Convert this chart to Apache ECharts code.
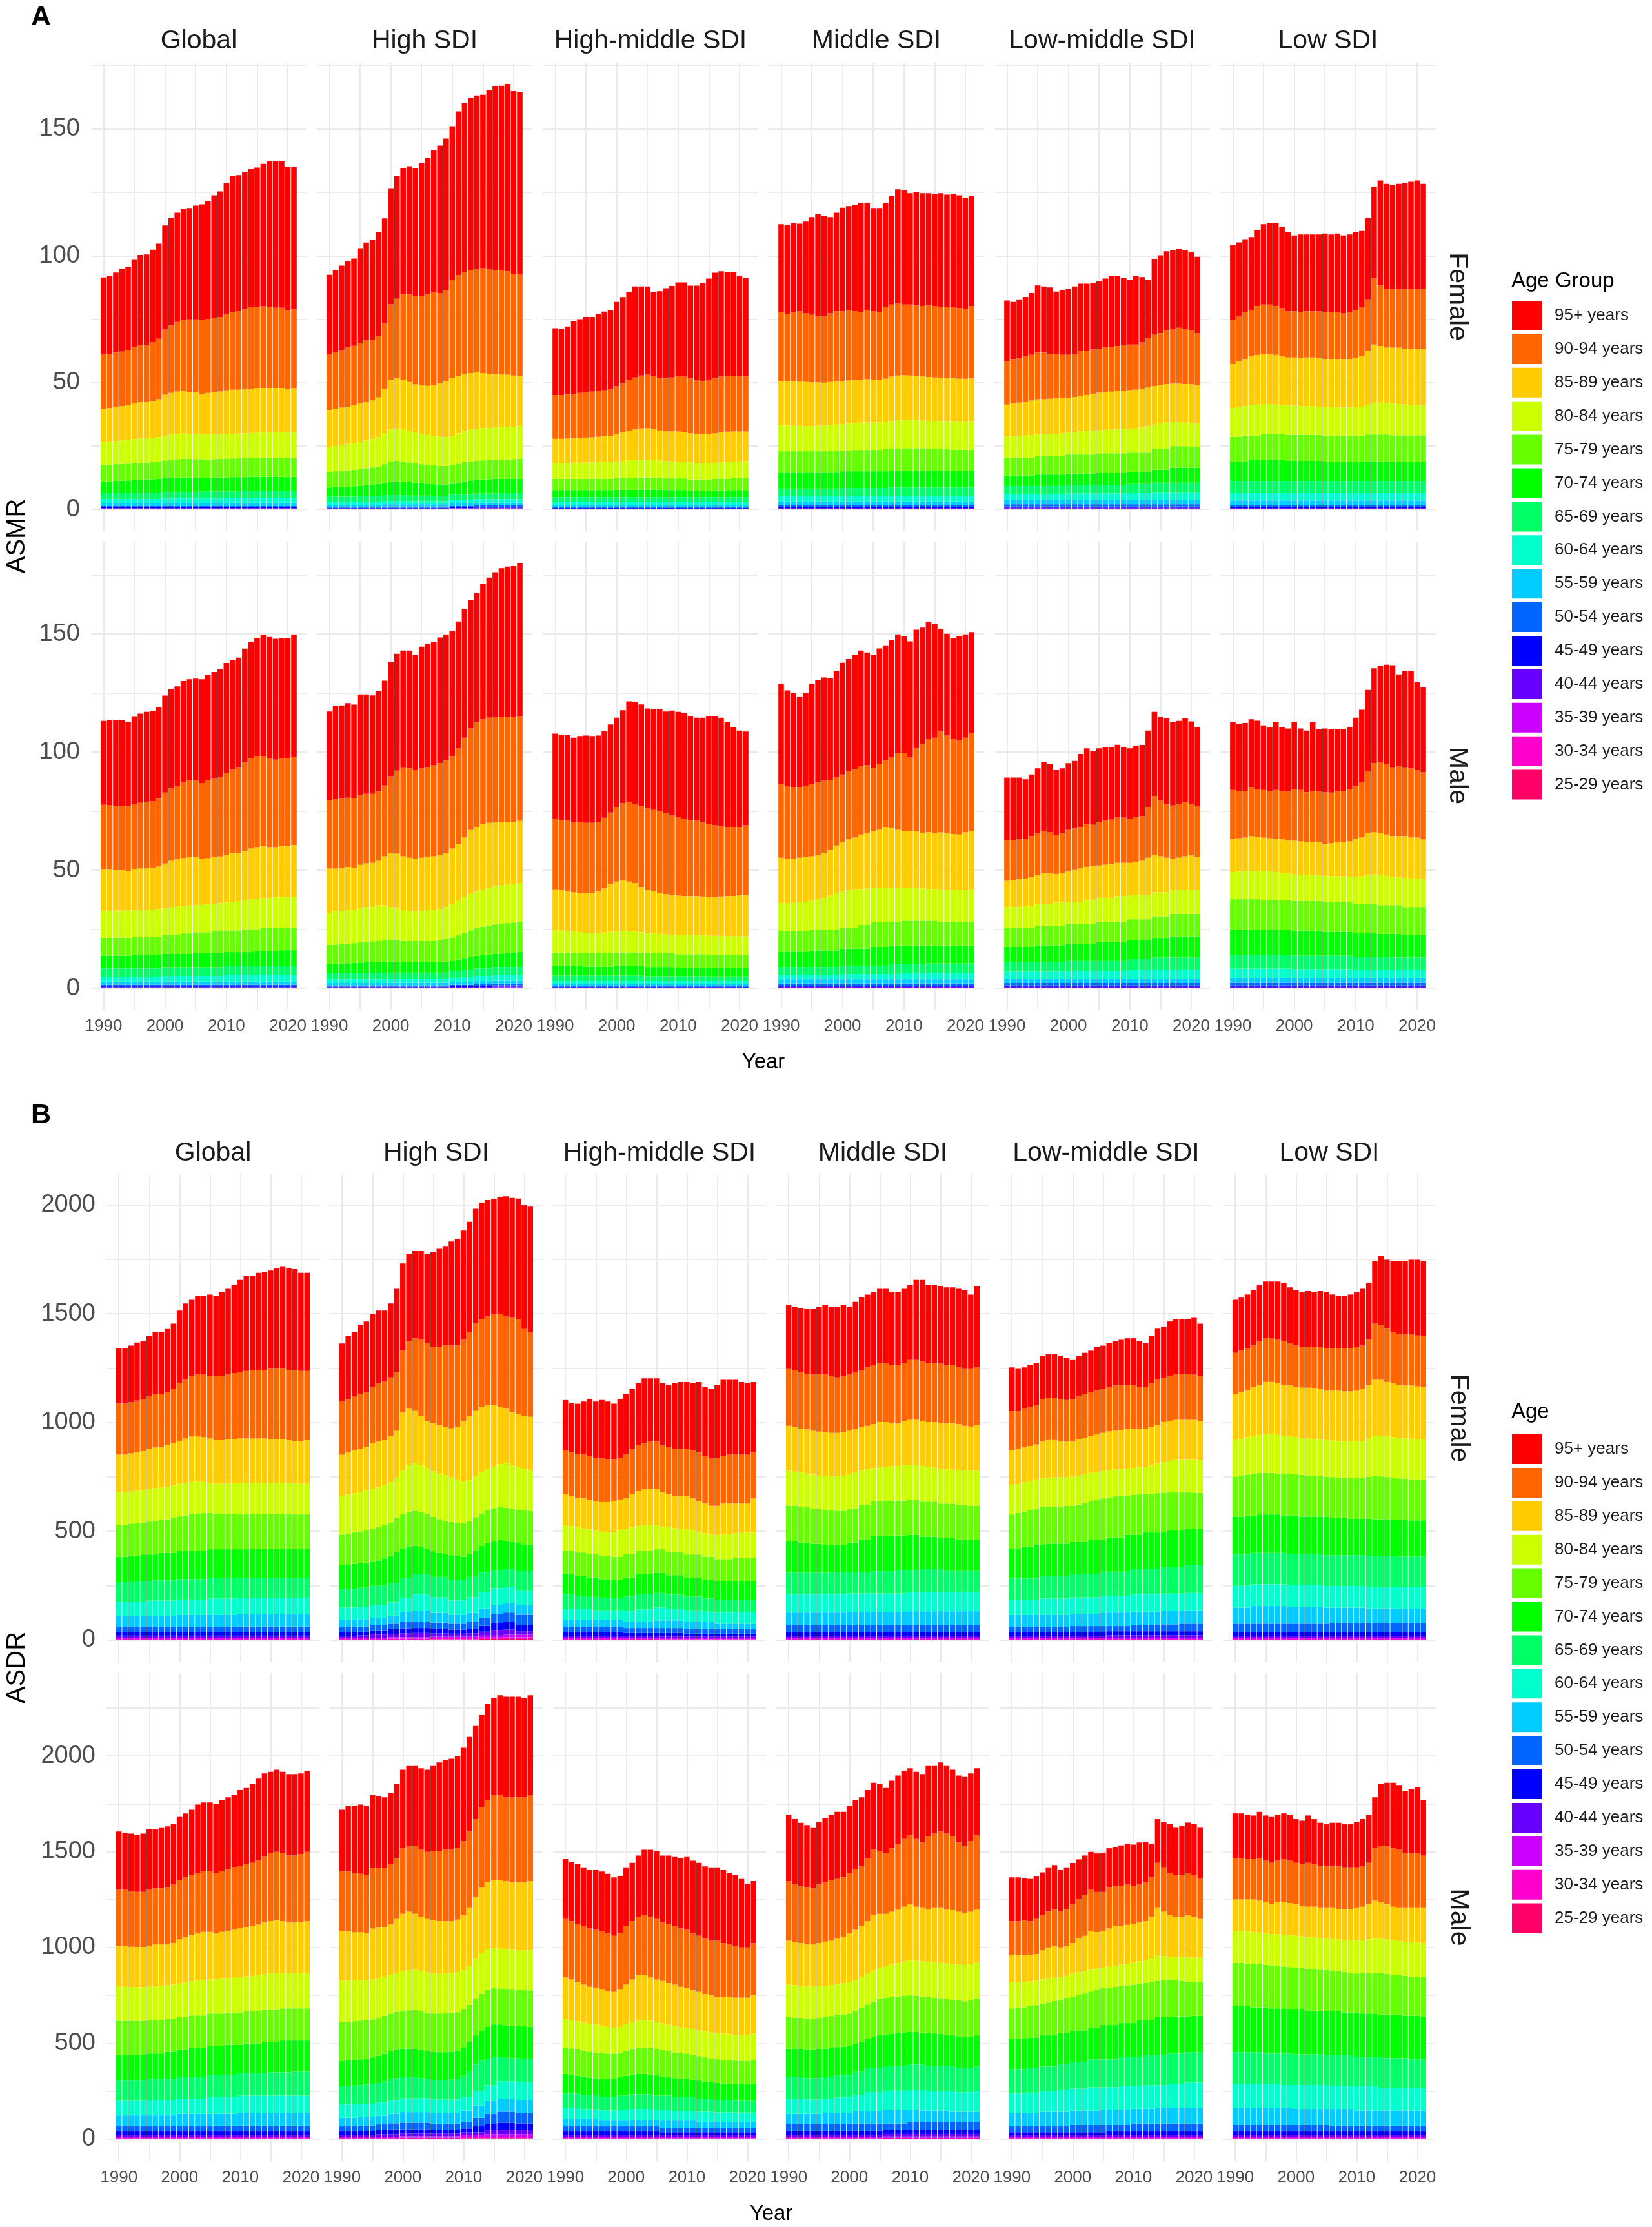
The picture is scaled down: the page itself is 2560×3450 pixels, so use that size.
<!DOCTYPE html>
<html>
<head>
<meta charset="utf-8">
<title>ASMR / ASDR by age group</title>
<script src="https://cdn.jsdelivr.net/npm/echarts@6.0.0/dist/echarts.min.js"></script>
<style>
  html, body { margin: 0; padding: 0; background: #fff; }
  #chart { width: 2560px; height: 3450px; }
</style>
</head>
<body>
<div id="chart"></div>
<script>
// ---- data ---------------------------------------------------------------
const years = [1990, 1991, 1992, 1993, 1994, 1995, 1996, 1997, 1998, 1999, 2000, 2001, 2002, 2003, 2004, 2005,
  2006, 2007, 2008, 2009, 2010, 2011, 2012, 2013, 2014, 2015, 2016, 2017, 2018, 2019, 2020, 2021];
const ageGroups = ['95+ years', '90-94 years', '85-89 years', '80-84 years', '75-79 years', '70-74 years',
  '65-69 years', '60-64 years', '55-59 years', '50-54 years', '45-49 years', '40-44 years', '35-39 years',
  '30-34 years', '25-29 years'];
const regions = ['Global', 'High SDI', 'High-middle SDI', 'Middle SDI', 'Low-middle SDI', 'Low SDI'];
const sexes = ['Female', 'Male'];
const xTickLabels = [1990, 2000, 2010, 2020];
const asmrTickLabels = [0, 50, 100, 150];
const asdrTickLabels = [0, 500, 1000, 1500, 2000];

// Each panel: cumulative height read at the top of every age band (95+ first, 25-29 last),
// one value per year 1990-2021. "v*n" = the same reading for n years in a row.
const asmrFemaleGlobal = [
  '91.5 92.2 93.4 94.7 95.7 98.4 100.3 100.5 102.4 104.8 112.0 115.0 117.0 118.4 118.6 119.8 120.3 121.7 123.9 125.4 128.7 131.4 131.8 133.1 134.2 134.8 136.3 137.5 137.4 137.5 135.1 135.0',
  '61.2 61.2 61.8 62.2 62.9 64.2 64.9 64.9 65.8 67.3 70.9 72.5 73.9 74.7 74.9 74.9 74.6 75.1 75.4 75.8 76.9 77.9 78.2 78.9 79.8 79.9 80.1 79.8 79.5 79.5 78.5 78.9',
  '39.6 39.9 40.3 40.7 41.0 41.9 42.3 42.3 42.7 43.4 45.2 45.9 46.5 46.7 46.3 46.3 45.6 45.9 46.3 46.5 46.9 47.2 47.2 47.3 47.6 47.9 47.9 47.9 47.9 47.9 47.3 47.9',
  '26.6 26.8 27.0 27.2 27.4 27.7 27.9 28.0 28.2 28.5 29.1 29.5 29.8 30.0 29.8 29.7 29.5 29.5 29.6 29.7 29.8 29.8 29.9 30.0 30.1 30.2 30.3 30.3 30.3 30.3 30.2 30.3',
  '17.6 17.7 17.8 17.9 18.0 18.2 18.3 18.4 18.6 18.8 19.3 19.6 19.8 19.9 19.9 19.8 19.8 19.7 19.8 19.9 20.0 20.1 20.1 20.2 20.3 20.3 20.4 20.4 20.4 20.4 20.3 20.4',
  '11.0 11.1 11.2 11.3 11.4 11.6 11.7 11.8 11.9 12.0 12.3 12.5 12.6 12.6 12.6 12.5 12.5 12.5 12.5 12.6 12.6 12.7 12.7 12.7 12.8 12.8 12.8 12.8 12.8 12.8 12.7 12.8',
  '6.4*5 6.6*5 6.9*6 7.0*6 7.2*10', '4.1*10 4.3*10 4.5*12', '2.4*10 2.5*10 2.6*12', '1.3*32', '0.8*32',
  '0.5*32', '0.3*32', '0.15*32', '0.07*32'
];
const asmrFemaleHigh = [
  '92.5 94.2 96.1 98.0 98.9 103.0 105.2 106.2 109.4 114.8 126.4 131.5 134.6 135.3 134.6 136.5 138.7 141.6 143.5 146.3 151.1 157.0 160.2 162.2 163.3 163.5 165.5 166.9 167.1 167.8 165.0 164.5',
  '61.1 61.9 62.8 63.8 64.5 65.7 66.6 67.0 68.3 73.3 80.9 83.1 84.7 84.7 84.1 84.3 84.7 85.6 85.3 86.3 90.4 92.3 93.6 94.2 94.8 95.1 94.8 94.4 94.2 93.9 92.9 92.7',
  '39.2 39.6 40.1 40.5 41.1 41.7 42.4 43.0 44.2 47.4 51.2 51.8 51.2 50.2 49.3 48.9 48.7 48.9 49.7 50.6 51.8 52.7 53.4 53.7 54.0 53.7 53.5 53.4 53.1 53.1 52.8 52.7',
  '24.7 25.0 25.4 25.8 26.2 26.7 27.2 27.7 28.4 30.0 31.5 31.9 31.6 31.0 30.4 29.8 29.3 28.9 28.6 28.5 29.0 29.9 30.8 31.4 31.8 32.0 32.1 32.2 32.3 32.4 32.6 32.9',
  '14.8 15.0 15.2 15.4 15.6 15.9 16.2 16.5 16.9 17.8 18.8 19.1 18.9 18.5 18.1 17.8 17.5 17.3 17.1 17.1 17.4 18.0 18.6 18.9 19.1 19.3 19.4 19.5 19.6 19.7 19.8 19.9',
  '8.6 8.7 8.8 8.9 9.1 9.3 9.5 9.7 10.0 10.5 11.0 11.1 11.0 10.8 10.5 10.3 10.1 9.9 9.8 9.8 10.1 10.6 11.1 11.4 11.6 11.8 11.9 12.0 12.0 12.0 12.0 12.0',
  '5.0*5 5.2*4 5.6*4 5.4*4 5.3*3 5.8*4 6.2*4 6.5*4', '3.0*9 3.3*4 3.2*7 3.6*4 4.0*8',
  '1.8*9 2.0*11 2.3*4 2.6*8', '1.0*9 1.1*11 1.3*4 1.6*8', '0.6*20 0.8*4 1.0*8', '0.35*20 0.45*4 0.6*8',
  '0.2*20 0.35*12', '0.1*20 0.2*12', '0.05*20 0.1*12'
];
const asmrFemaleHighMid = [
  '71.4 71.2 72.1 74.2 75.0 75.9 75.9 77.1 78.0 78.4 81.8 83.7 85.7 87.9 87.9 87.9 85.7 86.0 87.2 88.1 89.5 89.5 88.2 88.2 89.1 91.0 93.3 93.9 93.6 93.6 92.0 91.4',
  '45.1 45.1 45.3 45.6 45.9 46.2 46.4 46.6 46.9 47.3 48.5 49.9 51.2 52.0 52.8 53.1 52.6 51.8 51.6 52.0 52.5 52.3 51.6 50.8 50.4 50.8 51.6 52.3 52.6 52.6 52.5 52.4',
  '27.8 27.8 27.9 28.0 28.1 28.3 28.4 28.6 28.8 29.0 29.6 30.3 31.0 31.5 31.9 32.0 31.6 31.1 30.8 30.7 30.7 30.5 30.0 29.6 29.5 29.6 30.0 30.4 30.6 30.7 30.7 30.7',
  '18.3 18.3 18.3 18.4 18.4 18.5 18.5 18.6 18.6 18.7 18.9 19.1 19.3 19.4 19.5 19.5 19.4 19.2 19.0 18.9 18.8 18.7 18.5 18.3 18.2 18.2 18.3 18.5 18.7 18.8 18.9 19.0',
  '12.0*10 12.3*4 12.6*4 12.2*4 11.8*4 12.0*3 12.3*3', '7.6*10 7.7*4 7.8*4 7.6*4 7.4*4 7.5*3 7.6*3',
  '4.8*32', '3.0*32', '1.8*32', '1.0*32', '0.55*32', '0.3*32', '0.15*32', '0.08*32', '0.04*32'
];
const asmrFemaleMiddle = [
  '112.5 112.3 112.9 112.7 113.5 115.3 116.4 115.7 115.3 117.0 119.0 119.6 120.2 120.9 120.7 118.6 118.6 120.7 123.5 126.2 125.8 124.7 125.2 124.7 124.7 124.3 124.7 124.1 124.3 123.9 122.7 123.7',
  '77.7 77.1 77.7 78.1 77.3 76.7 76.3 76.1 77.3 78.1 78.1 78.7 78.1 77.7 78.7 78.1 77.7 79.8 80.8 81.2 80.8 80.8 80.4 80.2 80.4 80.2 79.8 79.8 79.8 79.3 79.1 80.2',
  '50.7 50.5 50.4 50.3 50.2 50.1 50.1 50.0 50.2 50.4 50.6 50.8 51.0 51.2 51.3 51.1 51.0 51.5 52.3 52.8 52.9 52.8 52.6 52.4 52.2 52.0 51.9 51.7 51.6 51.5 51.5 51.6',
  '33.1 33.0 32.9 32.9 32.8 32.8 32.9 33.0 33.2 33.4 33.6 33.8 34.0 34.2 34.3 34.3 34.3 34.5 34.8 35.1 35.2 35.2 35.1 35.0 34.9 34.9 34.8 34.8 34.8 34.7 34.7 34.8',
  '22.9*8 23.1*4 23.4*5 23.8*3 24.1*4 23.8*4 23.5*4', '14.7*10 15.0*8 15.3*8 15.1*6', '8.2*10 8.4*8 8.6*14',
  '5.1*32', '3.1*32', '1.6*32', '0.9*32', '0.5*32', '0.25*32', '0.12*32', '0.05*32'
];
const asmrFemaleLowMid = [
  '82.4 81.8 82.8 83.8 85.3 88.3 87.9 87.5 85.9 86.3 86.9 87.9 89.0 89.0 89.4 90.0 91.0 92.0 92.0 91.4 90.4 92.0 91.6 90.4 98.8 100.2 101.8 102.2 102.7 102.2 101.6 99.6',
  '58.3 59.3 59.7 60.3 60.9 61.8 61.8 61.3 61.3 60.9 60.9 61.3 62.4 62.4 63.0 63.4 63.8 64.0 64.4 64.8 65.0 65.0 65.8 67.5 68.9 69.5 70.6 71.2 71.6 71.0 70.6 69.5',
  '41.3 41.7 42.1 42.5 42.9 43.4 43.5 43.6 43.7 43.8 44.0 44.3 44.7 45.1 45.6 46.0 46.2 46.4 46.6 46.8 47.0 47.2 47.5 48.0 48.6 49.1 49.4 49.5 49.5 49.4 49.3 49.1',
  '28.6 28.7 28.9 29.1 29.3 29.5 29.6 29.7 29.8 29.9 30.3 30.5 30.7 30.9 31.1 31.2 31.3 31.4 31.5 31.6 31.7 31.9 32.2 32.8 33.4 33.9 34.2 34.4 34.4 34.2 34.0 33.7',
  '20.4*5 20.9*5 21.6*5 22.1*5 22.6*4 23.8*3 24.9*3 24.6*2', '13.3*5 13.7*5 14.1*5 14.5*5 14.8*4 15.6*3 16.4*5',
  '9.2*10 9.6*10 10.0*4 10.5*8', '6.1*10 6.3*10 6.5*4 6.7*8', '3.7*32', '2.0*32', '1.1*32', '0.6*32',
  '0.3*32', '0.15*32', '0.07*32'
];
const asmrFemaleLow = [
  '104.3 105.3 106.3 107.4 110.0 112.5 112.9 112.9 111.5 109.4 108.0 108.4 108.4 108.4 108.4 108.8 108.4 108.8 108.0 108.4 109.4 109.8 114.9 127.2 129.7 128.4 127.8 128.4 128.8 129.2 129.7 128.4',
  '74.6 76.1 77.7 78.7 80.2 80.8 80.8 80.2 79.3 78.1 78.1 77.7 78.1 78.1 78.1 77.7 77.7 77.7 77.3 77.7 78.7 79.8 82.8 91.0 88.3 86.9 86.9 86.9 86.9 86.9 86.9 86.9',
  '57.3 58.3 59.3 60.3 60.9 61.3 61.3 60.9 60.3 59.9 59.9 59.7 59.9 59.9 59.7 59.3 59.3 59.3 59.3 59.3 59.7 60.3 62.4 65.0 64.4 63.8 63.8 63.8 63.4 63.4 63.4 63.4',
  '39.9 40.3 40.7 41.1 41.3 41.5 41.5 41.3 41.1 40.9 40.9 40.7 40.7 40.7 40.5 40.3 40.3 40.1 40.1 40.1 40.3 40.5 41.1 42.1 42.1 41.9 41.7 41.5 41.3 41.1 41.1 40.9',
  '28.6*2 29.1*3 29.7*4 29.4*6 29.1*7 29.5*4 29.2*6', '18.8*3 19.4*6 19.1*6 18.8*7 19.0*4 18.6*6',
  '11.2*32', '6.5*32', '3.5*32', '1.8*32', '1.0*32', '0.5*32', '0.25*32', '0.12*32', '0.05*32'
];
const asmrMaleGlobal = [
  '113.2 113.7 113.5 113.7 112.9 115.2 116.3 117.0 117.5 119.0 123.9 126.5 127.8 130.1 130.8 131.1 130.8 132.7 133.9 135.1 137.7 139.1 140.0 143.8 146.6 148.4 149.5 148.7 148.0 148.4 148.3 149.5',
  '77.7 77.6 77.3 77.3 77.0 78.0 78.5 78.8 79.1 80.3 82.9 84.6 85.7 87.2 88.0 88.0 86.9 88.0 88.7 89.5 91.3 92.6 93.6 95.6 97.5 98.4 98.4 97.5 96.8 97.5 97.5 97.9',
  '50.2 50.2 50.0 50.0 49.7 50.5 50.8 50.8 50.9 51.6 52.8 54.0 54.6 55.1 55.5 55.5 54.8 55.1 55.5 55.8 56.6 57.1 57.4 58.1 59.2 59.7 60.1 59.7 59.7 60.1 60.1 60.7',
  '32.9 32.9 32.9 32.9 32.9 33.0 33.1 33.2 33.3 33.5 33.8 34.2 34.5 34.8 35.1 35.2 35.3 35.5 35.8 36.0 36.3 36.6 36.9 37.3 37.7 38.0 38.2 38.3 38.4 38.5 38.6 38.7',
  '21.4*5 21.8*5 22.5*3 23.2*2 23.7*3 24.1*2 24.5*3 25.0*3 25.6*6', '13.8*5 14.1*5 14.5*5 14.9*5 15.3*5 15.8*4 16.1*3',
  '8.4*10 8.9*10 9.3*6 9.5*6', '4.9*10 5.2*10 5.5*12', '2.8*32', '1.5*32', '0.8*32', '0.45*32', '0.25*32',
  '0.12*32', '0.05*32'
];
const asmrMaleHigh = [
  '117.2 119.6 119.8 120.7 120.1 124.4 124.4 124.0 125.7 130.2 138.1 141.6 143.0 143.0 141.3 144.6 145.9 146.5 148.5 149.5 151.4 155.3 160.5 164.4 167.4 171.3 173.9 176.1 177.8 178.5 178.7 180.1',
  '79.7 80.1 80.3 80.7 80.4 82.0 82.3 82.3 83.3 85.9 89.8 92.2 93.5 93.1 92.4 93.1 93.7 94.4 95.3 96.4 98.3 101.6 106.1 110.0 112.6 113.9 114.6 114.9 114.9 115.0 115.0 115.3',
  '50.7 50.7 51.0 51.4 51.0 52.3 52.9 53.1 54.0 55.9 57.2 57.0 55.9 55.3 54.9 55.3 55.7 55.9 56.6 57.2 59.2 61.2 63.8 67.0 68.3 69.6 70.0 70.3 70.3 70.3 70.5 70.9',
  '31.8 32.5 32.7 33.1 33.1 33.8 34.4 34.4 35.1 35.1 34.4 33.8 33.1 32.7 32.5 32.7 33.1 33.1 33.5 34.4 35.7 37.0 38.7 40.0 40.9 41.8 42.6 43.1 43.5 43.9 44.2 44.5',
  '18.4 18.5 18.7 18.9 19.1 19.4 19.7 19.9 20.2 20.5 20.7 20.6 20.3 20.1 20.0 20.1 20.2 20.3 20.5 20.8 21.5 22.4 23.4 24.5 25.4 26.1 26.6 27.0 27.3 27.6 27.8 27.9',
  '10.3 10.4 10.5 10.6 10.7 10.8 11.0 11.1 11.2 11.3 11.3 11.2 11.1 11.0 11.0 11.0 11.0 11.0 11.1 11.3 11.7 12.2 12.8 13.3 13.7 14.0 14.2 14.5 14.7 15.0 15.2 15.3',
  '6.4*10 6.6*10 7.2*2 7.8*2 8.4*3 9.0*5', '3.8*10 4.0*10 4.4*2 4.8*2 5.2*3 5.6*5', '2.2*10 2.3*10 2.6*4 3.0*3 3.4*5',
  '1.2*20 1.5*4 1.8*3 2.0*5', '0.7*20 0.9*4 1.1*3 1.2*5', '0.4*20 0.55*7 0.7*5', '0.2*20 0.3*7 0.4*5',
  '0.1*20 0.15*7 0.2*5', '0.05*20 0.08*7 0.1*5'
];
const asmrMaleHighMid = [
  '107.8 107.4 107.2 106.1 106.8 107.0 106.8 107.0 109.0 111.7 114.6 117.7 121.5 121.1 120.2 118.5 118.3 118.3 117.2 117.6 117.0 116.6 115.3 114.6 114.6 115.3 115.3 114.6 112.9 110.7 109.1 108.7',
  '71.6 71.3 70.9 70.5 70.3 70.0 70.0 70.5 72.2 74.4 76.8 78.4 78.7 78.1 77.1 76.1 75.5 75.1 74.2 73.1 72.5 71.8 71.3 70.9 70.3 69.6 69.0 68.7 68.3 68.3 68.3 69.0',
  '41.9 41.6 41.0 40.6 40.3 40.3 40.3 40.9 42.2 44.2 45.2 45.8 45.2 44.5 42.9 41.6 41.0 40.3 39.9 39.5 39.2 39.0 39.0 39.0 38.9 38.8 38.8 38.9 39.0 39.1 39.3 39.6',
  '24.6 24.4 24.2 24.0 23.8 23.5 23.3 23.4 23.6 23.9 24.1 24.3 24.2 24.0 23.7 23.4 23.2 23.0 22.8 22.7 22.6 22.5 22.4 22.4 22.3 22.3 22.2 22.2 22.1 22.1 22.0 22.0',
  '15.1*5 14.8*5 15.2*5 14.8*5 14.4*5 14.0*7', '9.3*5 9.1*5 9.3*5 9.0*5 8.7*5 8.5*7', '5.3*15 5.1*10 5.0*7',
  '3.1*32', '1.9*32', '1.1*32', '0.6*32', '0.35*32', '0.18*32', '0.09*32', '0.04*32'
];
const asmrMaleMiddle = [
  '128.7 126.1 125.0 123.5 125.0 128.7 130.5 131.6 131.3 134.4 137.8 139.4 141.3 143.0 142.2 141.3 143.9 145.2 147.5 149.8 149.2 146.9 151.8 152.7 155.0 154.4 152.2 150.1 148.2 149.2 149.8 150.8',
  '86.6 85.7 85.3 85.3 85.7 86.6 87.2 87.9 88.3 89.2 90.5 91.8 92.7 94.0 94.4 93.1 95.0 96.4 97.9 99.6 99.6 97.7 101.6 103.5 105.5 106.1 108.7 107.0 105.5 104.8 106.1 108.1',
  '55.3 54.9 54.9 55.3 55.6 55.9 56.6 57.2 58.5 60.5 61.8 63.1 63.8 65.1 65.7 66.4 67.1 68.3 67.9 67.1 66.4 66.6 66.4 65.7 66.1 65.7 66.0 65.7 65.3 65.1 66.1 66.7',
  '36.1 36.1 36.1 36.4 36.6 37.0 37.7 38.3 39.2 40.3 40.9 41.6 41.9 42.0 42.2 42.4 42.5 42.6 42.6 42.6 42.6 42.5 42.4 42.3 42.1 42.0 41.9 41.8 41.8 41.8 41.8 41.9',
  '24.3*5 24.7*5 25.6*3 26.8*2 27.9*5 28.6*6 28.2*6', '15.5*5 16.0*5 16.8*5 17.5*3 18.1*14', '9.0*10 9.6*8 10.2*6 10.5*8',
  '5.7*10 6.0*10 6.3*12', '3.8*32', '2.0*32', '1.1*32', '0.6*32', '0.3*32', '0.15*32', '0.07*32'
];
const asmrMaleLowMid = [
  '89.2 89.2 89.2 88.5 90.5 93.1 95.7 94.8 92.4 93.1 95.3 96.3 99.2 101.6 100.3 101.6 102.2 102.2 103.1 102.2 101.6 102.5 103.0 109.1 117.0 114.9 114.2 112.6 113.2 114.3 113.0 110.6',
  '62.7 62.7 63.1 63.1 64.4 65.7 66.6 66.1 65.0 65.7 67.0 67.7 68.3 69.6 69.2 70.3 71.0 71.4 72.3 72.3 71.8 72.7 72.9 76.8 81.4 79.4 77.8 77.4 78.1 78.7 78.1 77.1',
  '45.5 45.8 46.2 46.5 47.1 48.1 48.8 48.8 48.4 48.8 49.4 50.1 50.7 51.4 51.8 52.0 52.3 52.7 53.1 53.1 53.1 53.6 54.0 55.3 56.6 55.9 55.3 54.9 55.3 55.9 56.2 55.7',
  '34.4*3 34.9*2 35.7*3 36.2*2 36.6*3 37.5*2 38.3*3 39.0*2 39.6*4 40.6*3 41.6*5',
  '25.7*5 26.5*5 27.2*5 28.2*5 29.2*4 30.5*3 31.5*5', '17.5*5 18.2*5 18.8*5 19.7*5 20.5*4 21.3*3 22.0*5',
  '11.0*10 11.8*10 12.5*4 13.0*8', '7.0*10 7.4*10 7.8*12', '4.0*32', '2.2*32', '1.2*32', '0.6*32', '0.3*32',
  '0.15*32', '0.07*32'
];
const asmrMaleLow = [
  '112.6 112.0 112.3 113.9 113.3 111.3 110.7 112.6 110.4 110.0 112.6 110.0 109.1 112.6 109.6 110.0 109.8 109.8 109.8 110.7 114.6 117.9 126.3 135.5 136.5 137.0 136.8 132.9 134.2 134.4 129.6 127.6',
  '84.0 83.6 83.6 85.3 84.4 84.0 83.3 84.0 83.6 83.3 84.4 84.0 83.0 83.6 83.3 83.0 82.9 83.3 83.6 84.4 85.7 87.2 91.8 95.3 95.7 95.0 93.5 94.0 93.5 93.1 92.4 91.4',
  '63.1 63.5 63.8 64.4 64.0 63.8 63.5 63.1 63.1 62.5 62.5 62.2 61.8 61.8 61.8 61.1 61.4 61.8 61.8 62.2 63.1 63.8 65.7 66.1 65.7 65.1 64.4 64.4 64.4 63.8 63.8 63.1',
  '49.2 49.4 49.5 49.6 49.7 49.7 49.5 49.2 48.9 48.6 48.2 48.0 47.9 47.8 47.7 47.6 47.5 47.4 47.4 47.3 47.3 47.4 47.8 48.2 48.0 47.6 47.2 46.9 46.7 46.5 46.4 46.3',
  '37.7*5 37.4*5 37.0*5 36.4*5 35.7*4 35.2*4 34.4*4', '24.9*5 24.7*5 24.4*5 23.9*5 23.3*4 23.0*4 22.7*4',
  '14.2*10 13.8*10 13.4*6 13.0*6', '8.3*10 8.1*10 7.9*6 7.8*6', '4.4*32', '2.3*32', '1.2*32', '0.6*32',
  '0.3*32', '0.15*32', '0.07*32'
];

const asdrFemaleGlobal = [
  '1340 1340 1353 1367 1374 1397 1414 1414 1430 1454 1514 1547 1564 1581 1581 1588 1581 1598 1614 1631 1655 1675 1675 1688 1691 1698 1708 1715 1708 1705 1688 1688',
  '1086 1086 1093 1100 1107 1120 1130 1130 1140 1153 1180 1197 1213 1220 1220 1213 1213 1213 1220 1227 1230 1237 1240 1240 1240 1247 1247 1247 1240 1240 1237 1237',
  '852 852 858 862 868 879 885 885 895 906 916 926 936 936 933 926 919 919 923 923 926 926 926 926 926 923 923 923 919 916 916 919',
  '678 680 682 685 688 694 698 700 704 710 718 722 726 728 726 722 719 718 719 720 721 722 722 722 722 721 721 720 720 719 718 718',
  '527 530 533 536 540 544 548 551 555 561 568 573 578 581 583 584 582 580 579 578 577 577 578 578 579 579 579 578 578 577 577 577',
  '383*2 388*2 393*3 400*3 410*5 417*7 418*5 420*5', '266*3 270*3 274*4 280*5 284*5 286*12',
  '176*5 181*5 186*5 190*5 193*12', '109*10 115*10 119*12', '59*10 61*10 62*12', '35*32', '20*32', '10*32', '5*32', '2*32'
];
const asdrFemaleHigh = [
  '1363 1397 1414 1447 1464 1497 1514 1514 1547 1614 1731 1775 1788 1788 1775 1782 1798 1808 1832 1842 1882 1922 1982 2009 2022 2025 2036 2039 2032 2029 1999 1992',
  '1096 1106 1120 1130 1140 1163 1180 1187 1207 1230 1330 1374 1387 1380 1364 1347 1347 1354 1354 1354 1380 1414 1454 1474 1487 1497 1497 1487 1481 1474 1430 1414',
  '852 862 872 879 886 906 912 919 939 962 1046 1063 1053 1029 1006 996 986 979 973 979 1006 1029 1053 1073 1079 1079 1073 1063 1046 1039 1029 1026',
  '661 668 675 681 688 694 701 711 724 748 778 805 812 805 791 775 765 758 748 738 728 738 755 771 785 798 808 812 805 795 785 778',
  '484 488 494 499 504 510 518 528 540 560 578 590 594 588 578 566 556 548 543 540 537 548 565 582 596 606 610 608 604 600 597 594',
  '343 346 350 353 356 360 366 375 388 405 422 430 433 428 418 408 400 395 390 386 383 395 413 432 447 456 460 456 450 445 440 437',
  '233*3 240*2 249*3 262*2 285*2 303*3 290*3 276*3 290*2 310*2 322*2 326*2 318*3',
  '149*3 153*2 159*3 172*2 195*2 209*3 196*3 182*3 196*2 220*2 238*2 243*2 228*3',
  '92*3 96*2 102*3 112*2 128*2 135*3 125*3 115*3 125*2 145*2 162*2 169*2 160*3',
  '59*3 62*2 69*3 75*2 82*2 85*3 80*3 75*3 82*2 100*2 118*2 126*2 116*3',
  '35*3 38*2 45*3 50*2 54*2 55*3 50*3 48*3 52*2 65*2 78*2 82*2 70*3',
  '19*3 21*2 25*3 28*2 31*2 32*3 30*3 29*3 31*2 38*2 46*2 48*2 40*3',
  '10*8 13*7 15*8 20*4 24*5', '5*8 7*7 8*8 11*4 12*5', '2*15 3*8 5*9'
];
const asdrFemaleHighMid = [
  '1103 1089 1086 1096 1106 1096 1103 1096 1086 1106 1129 1153 1180 1203 1203 1203 1180 1173 1180 1186 1186 1180 1186 1163 1153 1173 1196 1196 1196 1186 1180 1186',
  '872 862 855 852 845 838 835 832 828 838 852 879 896 906 912 912 896 886 879 879 879 872 862 845 835 838 845 852 852 852 852 862',
  '671 661 654 651 644 638 634 634 638 644 651 671 684 694 694 694 678 671 661 661 661 651 638 627 617 617 627 627 627 627 627 651',
  '527 523 518 513 508 503 498 495 497 503 510 517 523 527 528 527 522 518 514 512 510 505 498 490 484 483 485 488 490 492 493 493',
  '410*2 402*2 395*2 386*2 383*2 395*2 410*3 417*2 405*3 393*3 383*2 372*3 376*4',
  '303*2 295*2 288*2 280*2 276*2 288*2 303*3 309*2 298*3 286*3 275*2 269*3 270*4',
  '209*2 203*2 198*2 195*2 193*2 200*2 210*3 216*2 208*3 199*3 190*2 183*3 184*4',
  '142*5 136*5 132*2 140*3 149*2 143*3 136*3 130*2 126*3 127*4', '92*10 85*5 90*5 85*5 75*7',
  '59*10 55*10 50*12', '35*10 32*10 29*12', '19*16 16*16', '10*16 8*16', '5*16 4*16', '2*32'
];
const asdrFemaleMiddle = [
  '1541 1531 1524 1521 1521 1531 1541 1531 1531 1541 1531 1554 1574 1588 1598 1614 1614 1598 1598 1614 1631 1655 1655 1631 1631 1625 1621 1621 1614 1608 1588 1625',
  '1246 1240 1230 1223 1220 1223 1220 1213 1207 1213 1220 1230 1240 1253 1263 1273 1273 1263 1263 1273 1287 1287 1280 1273 1273 1270 1263 1263 1256 1246 1246 1256',
  '985 978 972 968 962 958 955 952 952 955 962 972 978 985 992 1002 1002 995 995 1006 1012 1012 1006 1002 1002 999 995 995 992 985 982 989',
  '778 774 770 765 760 756 753 751 752 756 762 770 778 785 790 795 797 798 800 803 805 803 800 796 792 788 785 783 782 780 779 778',
  '617*2 610*2 603*2 596*2 594*2 605*2 620*2 637*3 641*3 644*2 636*3 627*3 620*2 617*2',
  '454*2 448*2 442*2 437*2 436*2 448*2 462*2 477*3 480*3 483*2 475*3 468*3 462*2 460*2',
  '309*8 312*6 316*4 322*4 326*4 320*6', '209*10 214*10 219*12', '126*10 129*10 132*12', '69*32', '35*32',
  '19*32', '10*32', '5*32', '2*32'
];
const asdrFemaleLowMid = [
  '1253 1246 1253 1263 1273 1307 1313 1313 1307 1297 1287 1307 1320 1330 1347 1353 1364 1374 1380 1387 1387 1374 1364 1397 1431 1441 1464 1474 1474 1474 1481 1454',
  '1052 1052 1062 1073 1079 1106 1113 1113 1106 1103 1106 1120 1130 1140 1146 1153 1163 1170 1170 1173 1173 1163 1163 1180 1196 1206 1213 1220 1223 1223 1220 1213',
  '872 879 886 892 899 912 919 919 912 912 912 922 929 939 946 952 959 962 965 969 972 972 972 979 989 1002 1006 1012 1012 1012 1012 1006',
  '711 717 724 731 738 744 746 748 749 750 751 756 762 768 773 777 780 783 785 788 791 793 795 802 810 818 824 828 828 828 828 826',
  '577 584 591 598 605 611 613 614 615 616 617 623 630 638 645 651 656 660 661 664 667 669 671 673 675 677 678 678 678 678 677 676',
  '420*2 430*2 440*2 443*4 450*3 460*3 472*3 483*3 494*4 503*3 510*3', '283*5 293*5 303*5 314*5 326*5 336*4 343*3',
  '183*5 190*5 196*5 202*5 209*5 213*4 216*3', '115*10 120*5 126*5 130*5 134*4 136*3', '59*10 64*10 69*4 72*4 75*4',
  '35*16 40*16', '19*16 22*16', '10*32', '5*32', '2*32'
];
const asdrFemaleLow = [
  '1564 1574 1588 1608 1631 1648 1648 1648 1641 1621 1608 1598 1604 1598 1604 1598 1588 1581 1581 1588 1598 1614 1641 1741 1765 1748 1741 1741 1741 1748 1748 1741',
  '1320 1330 1340 1353 1374 1387 1387 1380 1374 1364 1353 1347 1347 1347 1347 1340 1340 1340 1340 1340 1347 1353 1380 1454 1448 1431 1414 1407 1404 1404 1400 1397',
  '1129 1140 1146 1163 1173 1186 1186 1180 1173 1170 1163 1160 1160 1156 1153 1146 1146 1146 1143 1143 1146 1153 1173 1196 1196 1186 1180 1173 1170 1170 1166 1163',
  '919 925 932 939 943 946 946 943 939 936 932 929 926 923 921 919 917 915 914 913 912 915 925 936 939 936 932 929 927 925 923 922',
  '751 755 760 764 767 768 768 766 764 762 761 759 757 755 753 751 749 747 746 745 744 746 750 754 752 749 746 743 741 739 738 737',
  '567*2 572*2 577*4 573*3 567*5 562*3 557*4 555*3 552*3 550*3', '393*3 400*6 396*6 390*7 386*5 383*5',
  '249*3 256*6 252*6 248*7 245*5 243*5', '149*3 156*6 152*6 148*7 145*5 142*5', '75*16 79*16', '35*32', '19*32',
  '10*32', '5*32', '2*32'
];
const asdrMaleGlobal = [
  '1605 1598 1594 1586 1594 1617 1617 1624 1632 1643 1681 1700 1719 1746 1757 1757 1750 1769 1784 1795 1822 1833 1852 1882 1909 1917 1928 1917 1902 1902 1909 1921',
  '1301 1301 1293 1290 1290 1301 1309 1309 1312 1328 1351 1366 1377 1389 1397 1397 1389 1397 1408 1416 1427 1435 1442 1454 1473 1492 1499 1492 1480 1480 1488 1499',
  '1008 1008 1004 1000 1000 1008 1016 1016 1016 1023 1042 1054 1065 1073 1081 1081 1073 1081 1085 1092 1100 1107 1111 1119 1130 1137 1141 1137 1130 1130 1134 1137',
  '795 795 794 793 793 795 797 799 802 806 812 818 823 827 831 833 834 836 839 842 845 849 852 856 860 864 866 866 865 865 865 865',
  '617*5 622*3 628*2 636*2 645*3 655*3 660*3 667*3 674*3 682*5', '438*5 446*3 455*2 465*2 475*3 484*3 492*3 499*3 507*3 514*5',
  '305*5 312*5 324*5 333*5 343*5 348*4 351*3', '199*5 204*5 210*5 218*5 226*12', '123*10 131*10 134*12',
  '66*16 70*16', '39*32', '21*32', '11*32', '5*32', '2*32'
];
const asdrMaleHigh = [
  '1719 1738 1738 1746 1738 1795 1788 1784 1807 1852 1928 1947 1947 1936 1928 1947 1966 1978 1985 1997 2043 2099 2156 2213 2270 2301 2316 2309 2309 2309 2301 2316',
  '1396 1396 1389 1385 1377 1414 1414 1414 1434 1465 1518 1529 1529 1510 1499 1503 1503 1510 1510 1518 1556 1605 1670 1731 1769 1795 1795 1784 1784 1784 1784 1795',
  '1084 1084 1080 1080 1077 1099 1103 1107 1122 1149 1176 1187 1176 1160 1149 1141 1137 1137 1137 1145 1168 1206 1263 1312 1339 1350 1350 1346 1339 1339 1339 1346',
  '826 827 828 829 830 833 838 845 855 866 876 882 883 878 870 864 862 864 868 871 882 905 940 970 990 996 994 990 988 986 985 985',
  '610 612 615 618 621 624 632 643 655 664 670 672 673 668 660 655 655 658 660 662 676 700 730 758 778 787 786 783 780 778 777 776',
  '408 410 412 416 420 426 434 445 458 466 472 472 470 465 460 456 453 453 456 460 480 510 541 565 585 598 598 594 592 590 588 587',
  '275 277 279 281 283 286 292 300 312 318 323 324 322 318 313 309 308 308 310 313 330 355 389 408 420 427 427 424 422 421 420 419',
  '180*3 184*3 190*2 200*2 212*5 206*5 220*2 250*2 280*2 301*3 296*3', '111*3 115*3 122*2 132*2 140*5 134*5 148*2 175*2 198*2 210*3 204*3',
  '66*3 70*3 76*2 82*2 85*5 80*5 90*2 111*2 130*2 142*3 135*3', '39*3 42*3 46*2 50*2 51*5 48*5 55*2 66*2 78*2 85*3 81*3',
  '21*6 25*4 28*10 35*4 47*8', '11*10 14*10 19*4 25*8', '5*10 7*10 9*4 10*8', '2*20 4*12'
];
const asdrMaleHighMid = [
  '1461 1445 1434 1415 1404 1404 1396 1385 1366 1373 1415 1442 1480 1510 1510 1503 1480 1480 1472 1465 1472 1453 1442 1423 1415 1415 1404 1389 1377 1358 1332 1347',
  '1149 1137 1122 1111 1099 1092 1084 1073 1061 1073 1111 1137 1160 1168 1160 1149 1130 1122 1111 1099 1092 1073 1061 1046 1035 1035 1023 1016 1008 997 997 1023',
  '844 833 818 806 795 787 780 772 768 780 806 833 855 855 844 833 825 814 806 795 787 776 768 757 749 742 742 742 738 738 738 750',
  '629 622 614 607 601 598 592 585 579 585 598 610 617 619 617 610 603 596 589 583 579 573 567 561 556 553 550 547 544 542 541 550',
  '477 473 468 462 456 451 448 446 446 452 462 472 477 478 476 470 464 458 452 448 446 440 433 426 420 416 413 411 409 408 408 414',
  '340 336 331 326 321 317 314 313 315 322 330 337 340 340 337 332 327 322 318 315 313 309 305 300 296 292 290 288 287 287 287 290',
  '237*3 228*3 220*3 226*2 233*4 226*3 218*4 210*3 203*3 199*4', '161*3 155*3 149*3 153*2 157*4 152*3 146*4 142*3 139*3 138*4',
  '104*6 96*5 100*5 96*6 90*10', '66*16 58*16', '39*16 35*16', '21*16 19*16', '11*16 9*16', '5*16 4*16', '2*32'
];
const asdrMaleMiddle = [
  '1693 1670 1651 1636 1624 1655 1674 1693 1708 1708 1738 1769 1784 1822 1860 1852 1833 1871 1898 1921 1936 1917 1902 1947 1947 1966 1947 1928 1898 1890 1909 1936',
  '1346 1331 1320 1312 1309 1328 1339 1351 1358 1366 1389 1408 1427 1465 1510 1503 1491 1518 1541 1567 1586 1567 1548 1579 1594 1605 1594 1579 1548 1529 1556 1586',
  '1035 1027 1023 1016 1016 1023 1031 1035 1046 1054 1073 1092 1111 1137 1168 1176 1176 1187 1198 1213 1225 1213 1206 1198 1206 1206 1198 1195 1187 1179 1187 1198',
  '806 803 800 797 795 797 800 804 809 813 818 830 845 862 880 894 902 910 918 926 932 930 928 926 923 920 917 914 911 909 912 920',
  '636 634 632 630 629 632 637 642 647 651 655 668 684 702 718 731 737 741 745 748 750 748 745 741 736 732 730 727 723 719 724 731',
  '472 470 468 466 465 468 472 476 480 482 484 495 508 522 533 541 546 550 554 557 560 558 556 554 551 548 545 541 537 533 536 541',
  '324*3 318*3 324*2 332*3 350*2 372*3 382*4 389*3 382*5 372*3 378*1', '210*3 206*3 210*2 217*3 230*2 245*3 252*4 256*3 250*5 244*3 248*1',
  '131*6 134*5 145*5 153*6 149*5 142*5', '77*10 81*10 89*12', '43*16 47*16', '22*16 26*16', '11*16 13*16', '5*16 6*16', '2*32'
];
const asdrMaleLowMid = [
  '1366 1366 1362 1358 1370 1392 1415 1430 1404 1415 1441 1460 1480 1499 1491 1495 1518 1525 1533 1541 1537 1548 1552 1541 1670 1655 1644 1625 1633 1652 1644 1625',
  '1137 1137 1141 1137 1149 1168 1187 1198 1187 1198 1225 1252 1274 1301 1290 1290 1312 1320 1320 1328 1320 1328 1339 1366 1442 1415 1389 1377 1377 1389 1377 1358',
  '959 959 959 959 966 985 997 1008 997 1008 1023 1046 1061 1084 1080 1084 1099 1111 1111 1118 1122 1130 1137 1160 1206 1187 1168 1160 1160 1168 1160 1149',
  '818 818 820 822 826 833 838 842 846 852 864 870 877 884 890 894 899 905 910 915 920 927 934 945 958 955 952 950 949 948 947 947',
  '682 684 688 693 699 705 712 720 728 735 742 751 760 770 779 787 791 795 799 803 806 810 815 820 826 830 833 830 826 822 820 818',
  '522*3 530*2 541*3 555*2 567*3 580*2 595*3 605*3 620*3 636*3 640*3 643*2', '362*3 370*2 378*3 390*2 400*3 415*5 427*4 437*4 446*3 453*3',
  '237*3 242*2 248*3 256*2 263*3 270*5 275*4 281*4 286*3 294*3', '134*5 142*5 148*5 153*5 158*4 161*8', '66*10 73*10 81*12',
  '35*16 39*16', '19*32', '10*32', '5*32', '2*32'
];
const asdrMaleLow = [
  '1700 1700 1693 1689 1708 1689 1681 1693 1700 1693 1670 1662 1689 1670 1651 1643 1651 1651 1643 1643 1655 1670 1693 1784 1852 1860 1860 1845 1818 1826 1837 1769',
  '1465 1465 1461 1461 1465 1453 1442 1453 1461 1453 1442 1434 1442 1434 1427 1423 1423 1423 1415 1415 1415 1427 1442 1518 1529 1529 1518 1510 1491 1491 1491 1480',
  '1251 1251 1251 1251 1244 1236 1225 1236 1236 1232 1225 1217 1213 1213 1206 1206 1206 1202 1198 1198 1206 1213 1225 1244 1236 1225 1213 1206 1206 1206 1206 1206',
  '1084 1084 1082 1080 1078 1073 1070 1068 1065 1063 1061 1058 1055 1052 1049 1046 1044 1042 1040 1037 1035 1038 1042 1046 1046 1042 1038 1034 1030 1027 1025 1023',
  '920 919 917 915 912 909 907 904 901 898 895 892 889 886 884 883 880 876 872 868 864 866 868 869 866 862 858 855 852 849 847 845',
  '693*3 688*3 682*3 676*3 670*3 667*3 661*3 655*3 650*4 643*3 636*1', '453*5 446*5 442*5 438*5 430*5 422*4 416*3',
  '286*8 282*8 275*8 267*8', '161*10 157*10 149*12', '73*16 70*16', '39*32', '21*32', '10*32', '5*32', '2*32'
];

// figure, sex row, region column, readings
const panels = [
  ['A', 0, 0, asmrFemaleGlobal], ['A', 0, 1, asmrFemaleHigh], ['A', 0, 2, asmrFemaleHighMid],
  ['A', 0, 3, asmrFemaleMiddle], ['A', 0, 4, asmrFemaleLowMid], ['A', 0, 5, asmrFemaleLow],
  ['A', 1, 0, asmrMaleGlobal], ['A', 1, 1, asmrMaleHigh], ['A', 1, 2, asmrMaleHighMid],
  ['A', 1, 3, asmrMaleMiddle], ['A', 1, 4, asmrMaleLowMid], ['A', 1, 5, asmrMaleLow],
  ['B', 0, 0, asdrFemaleGlobal], ['B', 0, 1, asdrFemaleHigh], ['B', 0, 2, asdrFemaleHighMid],
  ['B', 0, 3, asdrFemaleMiddle], ['B', 0, 4, asdrFemaleLowMid], ['B', 0, 5, asdrFemaleLow],
  ['B', 1, 0, asdrMaleGlobal], ['B', 1, 1, asdrMaleHigh], ['B', 1, 2, asdrMaleHighMid],
  ['B', 1, 3, asdrMaleMiddle], ['B', 1, 4, asdrMaleLowMid], ['B', 1, 5, asdrMaleLow]
];

// ---- look -----------------------------------------------------------------
const ageColors = ['#FF0000', '#FF6600', '#FFCC00', '#CCFF00', '#66FF00', '#00FF00', '#00FF66', '#00FFCC',
  '#00CCFF', '#0066FF', '#0000FF', '#6600FF', '#CC00FF', '#FF00CC', '#FF0066'];
const FONT = '"Liberation Sans", Arial, Helvetica, sans-serif';
const GRID_COLOR = '#EBEBEB';

const figs = {
  A: { left: 141, step: 350, width: 334, tops: [97, 839], height: 725, stripY: 64, sexX: 2258,
       ticks: asmrTickLabels, yTitle: 'ASMR', xTitleY: 1646, tagY: 27,
       legendTitle: 'Age Group', legendTitleY: 436, legendTop: 466 },
  B: { left: 165, step: 346, width: 330, tops: [1819, 2592], height: 756, stripY: 1787, sexX: 2260,
       ticks: asdrTickLabels, yTitle: 'ASDR', xTitleY: 3430, tagY: 1728,
       legendTitle: 'Age', legendTitleY: 2188, legendTop: 2222 }
};

function expand(str) {
  const out = [];
  str.trim().split(/\s+/).forEach(tok => {
    const parts = tok.split('*');
    const n = parts.length > 1 ? parseInt(parts[1], 10) : 1;
    for (let i = 0; i < n; i++) out.push(parseFloat(parts[0]));
  });
  return out;
}

// shared x range: bars of width 0.9 plus ggplot's 5% padding
const span = (years[years.length - 1] + 0.45) - (years[0] - 0.45);
const xMin = years[0] - 0.45 - 0.05 * span;
const xMax = years[years.length - 1] + 0.45 + 0.05 * span;
const xGridValues = [1990, 1995, 2000, 2005, 2010, 2015, 2020];

const parsed = panels.map(p => ({ fig: p[0], row: p[1], col: p[2], tops: p[3].map(expand) }));

// free y scale per figure row
const rowMax = {};
parsed.forEach(p => {
  const key = p.fig + p.row;
  rowMax[key] = Math.max(rowMax[key] || 0, ...p.tops[0]);
});

const grids = [], xAxes = [], yAxes = [], series = [], graphics = [];

parsed.forEach((p, k) => {
  const f = figs[p.fig];
  const m = rowMax[p.fig + p.row];
  const yMin = -0.05 * m, yMax = 1.05 * m;
  const step = f.ticks[1] - f.ticks[0];
  const yGridValues = [];
  for (let v = 0; v <= yMax; v += step / 2) yGridValues.push(v);

  grids.push({ left: f.left + p.col * f.step, top: f.tops[p.row], width: f.width, height: f.height,
    containLabel: false, outerBoundsMode: 'none' });
  xAxes.push({
    type: 'value', gridIndex: k, min: xMin, max: xMax,
    axisLine: { show: false, onZero: false },
    axisTick: { show: false, customValues: xGridValues },
    axisLabel: { show: p.row === 1, customValues: xTickLabels, formatter: v => String(v),
      fontFamily: FONT, fontSize: 26, color: '#4D4D4D', margin: 13 },
    splitLine: { show: true, lineStyle: { color: GRID_COLOR, width: 2 } }
  });
  yAxes.push({
    type: 'value', gridIndex: k, min: yMin, max: yMax,
    axisLine: { show: false, onZero: false },
    axisTick: { show: false, customValues: yGridValues },
    axisLabel: { show: p.col === 0, customValues: f.ticks, formatter: v => String(v),
      fontFamily: FONT, fontSize: 38, color: '#4D4D4D', margin: 17 },
    splitLine: { show: true, lineStyle: { color: GRID_COLOR, width: 2 } }
  });

  // stack from youngest (bottom) to 95+ (top); value first so that it is the stacked dimension
  for (let g = ageGroups.length - 1; g >= 0; g--) {
    const upper = p.tops[g];
    const lower = g < ageGroups.length - 1 ? p.tops[g + 1] : null;
    series.push({
      type: 'bar', name: ageGroups[g], xAxisIndex: k, yAxisIndex: k, stack: 'panel' + k,
      barWidth: '90%', silent: true,
      encode: { x: 1, y: 0 },
      itemStyle: { color: ageColors[g] },
      data: years.map((yr, i) => {
        const top = upper[Math.min(i, upper.length - 1)];
        const bot = lower ? lower[Math.min(i, lower.length - 1)] : 0;
        return [Math.max(0, +(top - bot).toFixed(3)), yr];
      })
    });
  }
});

function text(str, x, y, size, opts) {
  const o = opts || {};
  graphics.push({
    type: 'text', x: x, y: y, rotation: o.rotation || 0, silent: true,
    style: {
      text: str, fill: o.color || '#000000',
      font: (o.bold ? 'bold ' : '') + size + 'px ' + FONT,
      align: o.align || 'center', verticalAlign: 'middle',
      textAlign: o.align || 'center', textVerticalAlign: 'middle'
    }
  });
}

const legends = [];
Object.keys(figs).forEach(key => {
  const f = figs[key];
  const right = f.left + 5 * f.step + f.width;
  text(key, 48, f.tagY, 43, { bold: true, align: 'left' });
  regions.forEach((r, c) => text(r, f.left + c * f.step + f.width / 2, f.stripY, 41, { color: '#1A1A1A' }));
  sexes.forEach((s, r) => text(s, f.sexX, f.tops[r] + f.height / 2, 41, { color: '#1A1A1A', rotation: -Math.PI / 2 }));
  text(f.yTitle, 27, (f.tops[0] + f.tops[1] + f.height) / 2, 40, { rotation: Math.PI / 2 });
  text('Year', (f.left + right) / 2, f.xTitleY, 33);
  text(f.legendTitle, 2342, f.legendTitleY, 33, { align: 'left' });
  legends.push({
    data: ageGroups.slice(), orient: 'vertical', left: 2343, top: f.legendTop, padding: 0,
    itemWidth: 47, itemHeight: 46, itemGap: 5.9, icon: 'rect', selectedMode: false,
    textStyle: { fontFamily: FONT, fontSize: 26, color: '#1A1A1A', padding: [0, 0, 0, 14] }
  });
});

const chart = echarts.init(document.getElementById('chart'), null, { renderer: 'canvas' });
chart.setOption({
  backgroundColor: '#FFFFFF',
  animation: false,
  grid: grids,
  xAxis: xAxes,
  yAxis: yAxes,
  legend: legends,
  series: series,
  graphic: graphics
});
window.addEventListener('resize', () => chart.resize());
</script>
</body>
</html>
